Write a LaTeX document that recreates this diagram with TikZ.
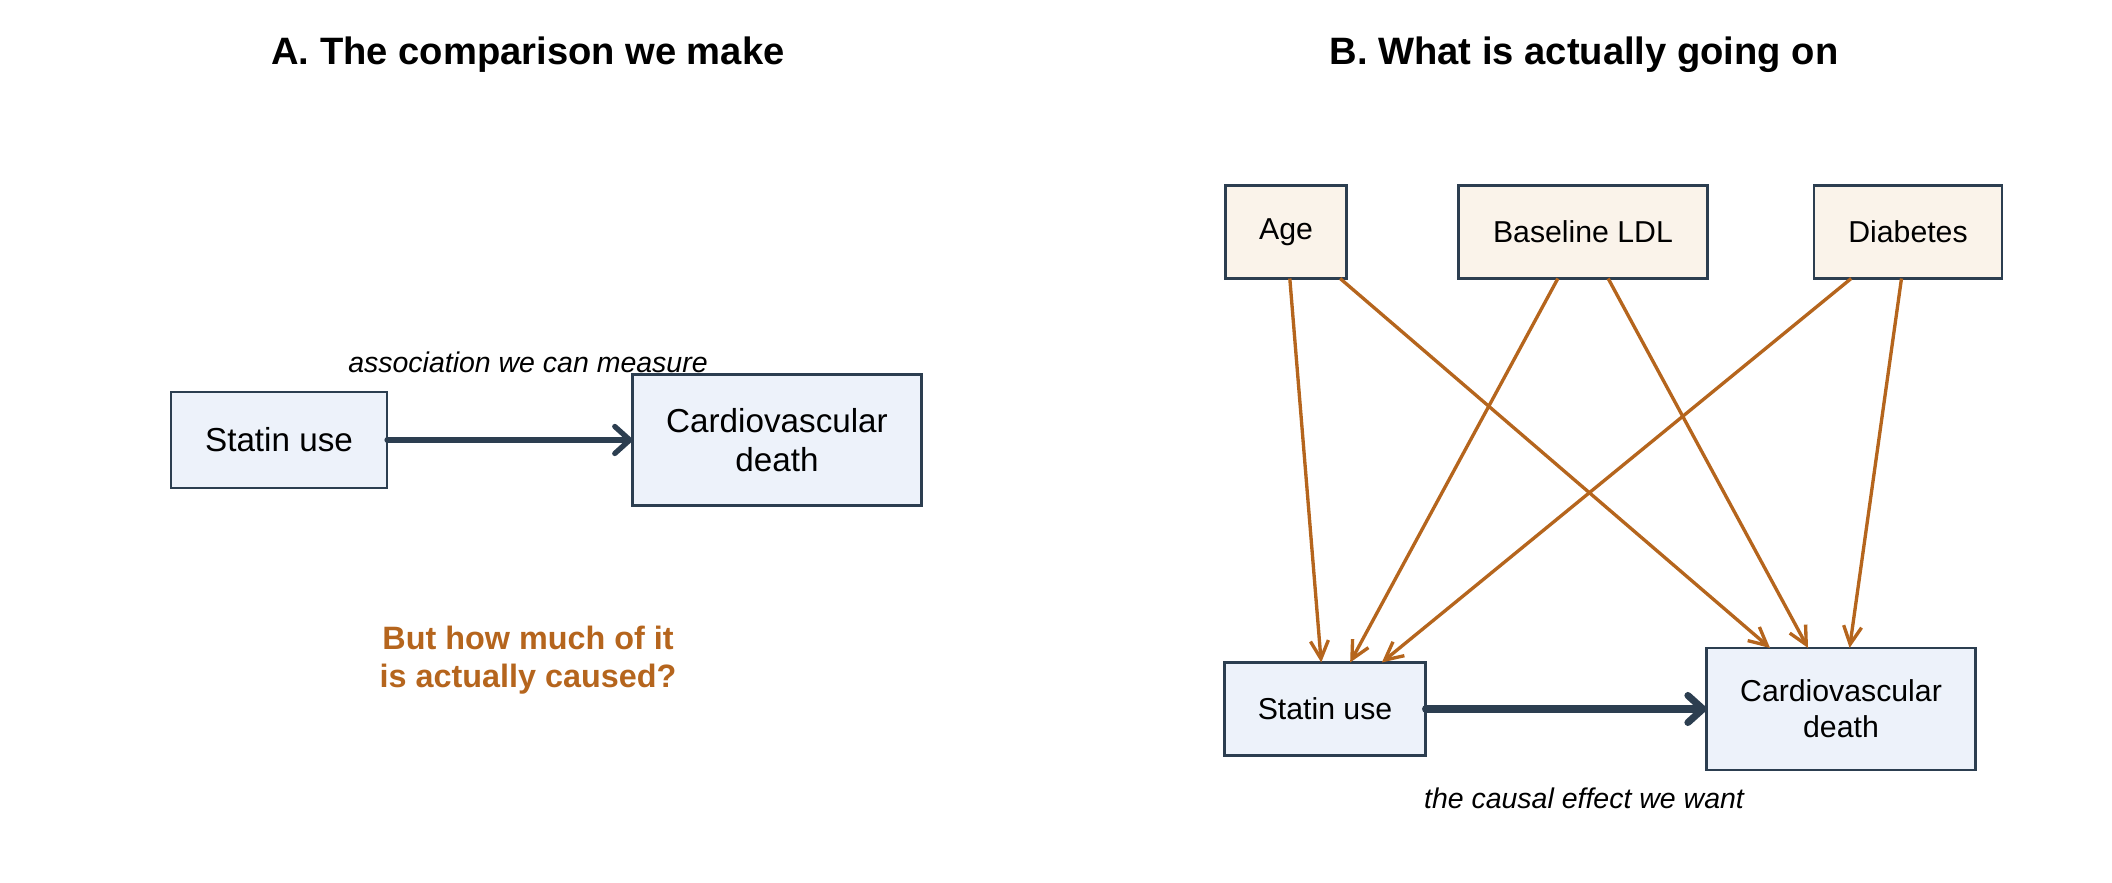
\documentclass[tikz,border=0pt]{standalone}
\usepackage{fontspec}
\setmainfont{Liberation Sans}
\usetikzlibrary{arrows.meta}
\definecolor{navy}{HTML}{2C3E50}
\definecolor{paleblue}{HTML}{EDF2FA}
\definecolor{cream}{HTML}{FAF3EA}
\definecolor{rust}{HTML}{B5651D}

\begin{document}
\begin{tikzpicture}[x=0.01cm,y=-0.01cm,
	box/.style={draw=navy,line width=0.75pt,inner sep=0pt,outer sep=0pt,align=center},
	main/.style={draw=navy,line cap=round,-{Straight Barb[length=0.15cm,width=0.27cm,round]}},
	conf/.style={draw=rust,line width=0.95pt,-{Straight Barb[length=0.18cm,width=0.18cm]}},
	heading/.style={font=\fontsize{10.85}{13}\selectfont\bfseries,anchor=base},
	remark/.style={font=\fontsize{8.1}{10}\selectfont\itshape,anchor=base}]

	\useasboundingbox (0,0) rectangle (2112,883);

	\node[heading] (titlea) at (528,65)  {A. The comparison we make};
	\node[heading] (titleb) at (1584,65) {B. What is actually going on};

	\begin{scope}[every node/.style={box,fill=paleblue,font=\fontsize{9.45}{10.9}\selectfont}]
		\node[minimum width=2.16cm,minimum height=0.96cm] (statin) at (279,440) {Statin use};
		\node[minimum width=2.89cm,minimum height=1.31cm] (death)  at (777,440) {Cardiovascular\\death};
	\end{scope}

	\node[remark] (assoc) at (528,373) {association we can measure};
	\draw[main,line width=1.5pt] (statin) -- (death);

	\node[font=\fontsize{9.2}{10.8}\selectfont\bfseries,text=rust,align=center] (question) at (528,660)
		{But how much of it\\is actually caused?};

	\begin{scope}[every node/.style={box,fill=cream,minimum height=0.93cm,font=\fontsize{8.6}{10.2}\selectfont}]
		\node[minimum width=1.21cm] (age)      at (1286,232) {Age};
		\node[minimum width=2.49cm] (ldl)      at (1583,232) {Baseline LDL};
		\node[minimum width=1.88cm] (diabetes) at (1908,232) {Diabetes};
	\end{scope}

	\begin{scope}[every node/.style={box,fill=paleblue,font=\fontsize{8.6}{10.2}\selectfont}]
		\node[minimum width=2.01cm,minimum height=0.93cm] (statinb) at (1325,709) {Statin use};
		\node[minimum width=2.69cm,minimum height=1.22cm] (deathb)  at (1841,709) {Cardiovascular\\death};
	\end{scope}

	\foreach \c in {age,ldl,diabetes} {
		\draw[conf] (\c) -- (statinb);
		\draw[conf] (\c) -- (deathb);
	}

	\draw[main,line width=2pt] (statinb) -- (deathb);
	\node[remark] (effect) at (1584,809) {the causal effect we want};

\end{tikzpicture}
\end{document}
